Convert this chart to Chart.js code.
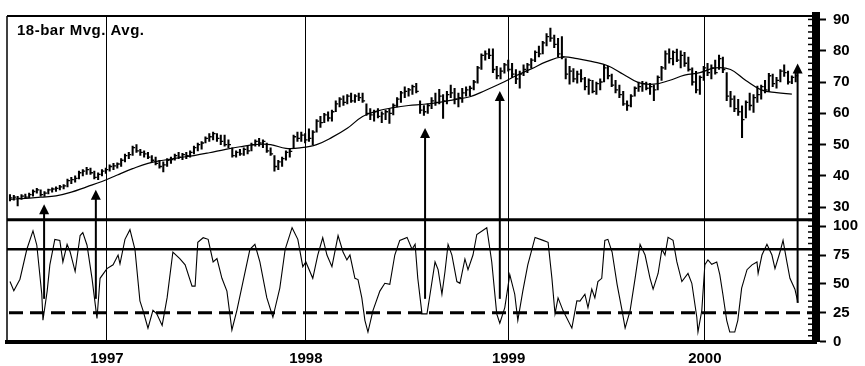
<!DOCTYPE html>
<html lang="en">
<head>
  <meta charset="UTF-8">
  <title>18-bar Mvg. Avg.</title>
  <script src="https://cdn.jsdelivr.net/npm/chart.js"></script>
  <style>
    body {
      margin: 0;
      background-color: #ffffff;
    }
    canvas {
      display: block;
    }
  </style>
</head>
<body>
  <canvas id="chart" width="865" height="366"></canvas>

  <script>
    // weekly bars, index 0 = first week on the chart (mid 1996)
    const priceHigh = [
      34.0,33.8,33.5,34.0,34.2,34.5,35.5,36.0,35.5,35.0,
      35.8,36.2,36.5,37.0,37.2,39.0,39.5,40.0,41.5,42.0,
      42.7,42.5,41.5,41.0,42.0,42.5,43.5,44.0,44.2,45.5,
      47.0,47.5,49.5,50.0,48.5,48.0,47.5,46.5,46.0,45.0,
      44.5,45.5,46.0,47.0,47.5,47.2,47.5,48.0,49.5,50.5,
      51.0,52.5,53.5,54.0,53.5,53.0,53.0,51.5,49.0,48.0,
      48.5,49.0,49.5,50.5,51.5,52.0,51.5,50.5,49.0,46.5,
      45.0,46.0,48.0,48.5,53.0,54.0,54.0,53.5,55.0,54.5,
      58.0,59.0,60.0,60.5,61.0,64.0,65.0,65.6,66.0,66.5,
      66.0,66.5,66.5,63.0,61.5,61.0,61.5,60.5,61.0,61.5,
      63.0,65.0,67.0,68.5,68.0,69.0,69.6,64.0,62.5,63.0,
      65.0,66.5,67.7,66.0,67.0,69.0,68.0,66.5,68.0,68.5,
      68.7,70.5,75.0,79.0,80.0,80.6,80.6,75.0,74.5,76.0,
      77.0,76.0,74.0,73.5,75.5,76.0,77.5,80.0,81.5,83.0,
      85.5,87.2,85.0,84.0,84.5,77.5,75.0,74.3,73.5,74.0,
      71.5,71.0,70.5,70.0,71.0,75.5,75.0,72.5,70.5,69.0,
      67.0,64.0,66.0,68.5,70.0,70.2,70.0,69.6,69.0,72.0,
      75.0,80.0,80.6,80.0,80.5,80.0,79.5,78.0,74.5,73.4,
      72.0,75.0,76.0,75.5,77.0,78.6,78.0,73.0,67.0,65.6,
      64.5,62.4,64.0,66.5,66.0,68.7,69.0,70.5,72.8,72.5,
      71.5,74.0,75.5,73.5,72.0,72.8
    ];
    const priceLow = [
      32.0,32.2,30.4,32.5,32.8,33.0,33.5,34.5,33.5,33.4,
      34.2,34.8,35.0,35.5,35.8,36.5,37.5,38.0,39.0,40.0,
      40.5,40.5,39.0,38.8,40.0,40.8,41.5,42.0,42.5,43.0,
      44.5,45.5,46.5,47.5,46.5,46.0,45.5,44.5,43.5,42.5,
      41.3,43.0,44.0,45.0,45.5,45.2,45.5,46.0,47.0,48.0,
      48.5,50.5,51.0,51.5,51.0,50.0,49.5,49.0,46.0,46.0,
      46.5,46.5,47.0,48.0,49.5,49.5,49.0,47.5,46.5,41.5,
      42.0,43.0,45.0,46.0,49.0,51.0,51.0,50.5,51.0,50.0,
      54.0,55.5,57.0,57.5,57.5,60.5,62.0,62.5,63.0,63.5,
      63.5,64.0,63.5,59.3,58.0,57.5,58.5,57.0,58.0,56.8,
      59.5,62.0,63.5,65.0,65.5,66.0,66.5,60.0,59.3,60.0,
      61.5,62.5,63.0,58.4,63.0,65.0,63.0,62.0,63.5,65.5,
      65.6,67.5,69.6,74.0,77.0,77.5,73.0,71.0,71.0,72.8,
      73.5,71.5,69.5,68.0,72.0,73.0,74.5,76.5,78.0,79.0,
      81.5,83.0,81.0,78.0,77.4,71.0,69.3,70.0,69.6,70.0,
      67.5,66.0,66.5,66.0,67.5,70.0,71.0,68.5,66.5,65.0,
      62.5,60.9,62.0,65.5,67.0,67.0,67.5,66.0,64.0,67.5,
      70.5,74.0,76.0,75.5,76.5,74.5,75.0,73.5,69.0,66.5,
      66.0,70.5,72.0,71.0,72.5,74.0,73.0,64.0,62.0,60.5,
      59.3,52.2,58.5,61.0,60.3,63.5,64.5,66.5,67.0,68.5,
      68.0,70.0,71.8,69.3,69.5,70.0
    ];
    const priceClose = [
      33.0,33.2,32.8,33.5,33.2,34.0,35.0,35.5,34.0,34.5,
      35.5,35.8,36.0,36.5,36.8,38.5,38.8,39.2,41.0,41.5,
      42.0,41.0,39.5,40.5,41.5,42.0,43.0,43.2,43.8,45.0,
      46.5,46.8,49.0,48.0,47.5,47.0,46.0,45.0,44.0,43.0,
      43.5,45.0,45.2,46.5,46.0,46.8,46.5,47.5,49.0,50.0,
      50.5,52.0,52.5,53.5,52.0,51.0,50.0,50.0,46.5,47.5,
      47.0,48.5,48.0,50.0,51.0,50.5,51.0,48.0,47.0,43.0,
      44.5,45.5,47.5,47.8,52.5,52.0,53.0,51.5,52.0,54.0,
      57.5,57.0,59.5,58.5,60.5,63.0,64.5,63.5,65.5,64.0,
      65.5,65.0,64.0,60.0,59.5,60.5,59.0,59.8,60.5,60.0,
      62.5,64.5,66.5,67.0,67.5,68.5,67.0,61.0,60.5,62.5,
      64.0,63.5,65.5,64.0,66.0,66.5,64.5,65.0,66.5,67.5,
      68.0,70.0,74.5,78.5,79.0,78.5,74.0,72.0,73.5,75.5,
      74.0,72.5,71.0,72.5,74.0,75.5,77.0,79.5,79.0,82.5,
      84.5,84.0,82.0,79.0,78.0,72.5,73.5,71.0,72.5,71.0,
      68.5,70.5,67.0,69.5,70.0,74.5,72.0,69.0,67.5,66.0,
      63.0,62.5,65.5,68.0,68.5,69.5,68.0,68.5,67.5,71.5,
      74.5,79.0,77.5,79.5,77.0,78.5,76.0,74.0,70.0,67.5,
      71.5,74.5,73.0,74.5,73.0,77.5,74.0,65.5,64.5,61.5,
      60.5,58.0,63.5,62.5,65.0,66.0,68.5,67.5,72.0,69.5,
      70.5,73.5,73.0,70.0,71.5,72.0
    ];

    // 18-bar moving average, read every 4th week
    const maWeek = [0,4,8,12,16,20,24,28,32,36,40,44,48,52,56,60,64,68,72,76,80,84,88,92,96,100,
      104,108,112,116,120,124,128,132,136,140,144,148,152,156,160,164,168,172,176,180,184,188,192,196,200,204];
    const maValue = [32.5,32.8,33.2,33.6,34.8,36.5,38.2,40.3,42.3,44.0,45.0,45.8,46.5,47.4,48.4,49.3,50.0,50.0,
      48.8,49.0,50.0,52.3,55.2,59.0,60.8,61.8,62.5,62.9,63.5,64.4,65.3,67.3,69.5,72.0,74.2,76.5,78.0,77.5,76.5,
      75.2,72.5,69.8,69.3,70.5,72.2,73.0,74.5,74.0,70.5,67.5,66.6,66.1];

    // oscillator turning points (week, value)
    const oscWeek = [
      0,1.0,2.6,4.4,6.0,7.0,8.3,8.6,9.7,10.4,
      11.7,13.0,13.8,14.9,15.7,17.0,18.3,19.0,20.1,21.4,
      22.7,23.5,25.3,26.9,28.2,28.7,30.0,31.3,32.6,33.9,
      34.7,36.0,37.3,38.3,39.7,41.0,42.5,44.3,45.7,47.5,
      48.3,49.0,50.4,51.7,53.0,54.0,55.3,56.6,57.9,59.2,
      60.8,62.6,63.9,65.2,67.0,68.6,70.4,71.8,73.6,75.1,
      76.4,77.2,79.0,80.3,81.6,82.7,84.0,85.6,86.9,87.9,
      88.7,90.0,90.8,91.8,92.6,93.4,94.7,96.5,97.8,99.1,
      100.4,101.7,103.6,104.9,105.7,106.4,107.5,108.8,109.6,110.9,
      111.7,112.7,113.5,114.3,115.3,116.6,117.4,118.7,119.5,120.8,
      121.8,124.4,125.7,127.0,127.8,129.1,130.4,131.7,132.5,133.8,
      135.1,137.0,139.1,140.4,141.4,142.2,143.0,144.3,146.6,147.9,
      148.7,150.0,150.8,151.8,152.6,153.4,154.4,155.2,156.0,157.1,
      158.4,159.7,160.5,161.8,163.1,164.4,165.7,167.0,167.8,169.1,
      170.1,170.9,171.7,173.0,174.0,175.3,176.9,177.9,179.2,179.5,
      180.5,181.3,182.1,183.1,184.4,185.2,186.0,187.0,187.8,189.1,
      189.9,190.9,192.3,193.6,194.9,195.2,196.2,197.5,198.8,199.6,
      200.9,201.7,202.7,203.5,204.8,205.6
    ];
    const oscValue = [
      52,44,54,80,96,83.5,41,18.4,43.7,66.5,
      88.6,87.7,69,84.3,77.6,60.7,91.9,94.5,83.5,54.8,
      20,54.8,63.2,66.5,75,67.4,88.6,97,80,35.3,
      27,11.6,27,24,14,38,77.6,71.9,66.5,48,
      48,86,90,88.6,69,71.9,54.8,43.7,10,27,
      52,80,84.3,69,38,21,46.3,80,98.7,88.6,
      64.9,69,54.8,75,90,75,64.9,91.9,77.6,70.8,
      75,54.8,53.7,37.8,18.4,8.2,26.8,43.7,50.5,49.6,
      75,87.7,90.3,80,84.3,54.8,24,24,41,69,
      62.3,41,60.7,84.3,75,52,50.5,71.6,62.3,75,
      92.8,98.7,69,24,15.8,29.4,58,41,18.4,43.7,
      66.5,90.3,87.7,86,54.8,24,37.8,26.8,11.6,35.3,
      35,41,29.4,45.4,37.8,52,54.8,87.7,88.6,77.6,
      49.6,26.8,11.6,26.8,54.8,84.3,75,54.8,45.4,59,
      80,75,90.3,87.7,69,52,59,50.5,21,8.2,
      26.8,66.5,70.8,67,69,58,41,18.4,8.2,8.2,
      18.4,46.3,62.3,66.5,69,59,75,84.3,75,63.2,
      77.6,87.7,69,54.8,45.4,33.6
    ];

    const yearWeek = [25.3, 77.2, 130.1, 181.3];
    const yearLabels = ["1997", "1998", "1999", "2000"];
    const priceTicks = [30, 40, 50, 60, 70, 80, 90];
    const oscTicks = [0, 25, 50, 75, 100];
    const oscLevels = [80, 25];   // solid, dashed

    // arrows: week, tip (price scale), foot (oscillator scale)
    const arrowWeek = [8.9, 22.4, 108.3, 127.8, 205.5];
    const arrowTip = [30.9, 35.6, 55.3, 67.1, 75.9];
    const arrowFoot = [37, 37, 37, 37, 33.6];

    const FONT = '"Liberation Sans", Arial, sans-serif';
    Chart.defaults.font.family = FONT;
    Chart.defaults.color = "#000";

    const decor = {
      id: "decor",
      beforeDatasetsDraw(chart) {
        const { ctx, chartArea: a } = chart;
        const yO = chart.scales.yO;
        ctx.save();
        ctx.strokeStyle = "#000";
        ctx.lineWidth = 2.5;
        let y = yO.getPixelForValue(oscLevels[0]);
        ctx.beginPath(); ctx.moveTo(a.left, y); ctx.lineTo(a.right, y); ctx.stroke();
        ctx.lineWidth = 3;
        ctx.setLineDash([14, 7]);
        y = yO.getPixelForValue(oscLevels[1]);
        ctx.beginPath(); ctx.moveTo(a.left + 2, y); ctx.lineTo(a.right, y); ctx.stroke();
        ctx.restore();
      },
      afterDraw(chart) {
        const { ctx, chartArea: a, scales } = chart;
        const { x: xs, yP, yO } = scales;
        ctx.save();
        ctx.strokeStyle = "#000";
        ctx.fillStyle = "#000";

        // frame
        ctx.lineWidth = 2;
        ctx.beginPath(); ctx.moveTo(a.left, a.top); ctx.lineTo(a.right, a.top); ctx.stroke();
        ctx.lineWidth = 1.5;
        ctx.beginPath(); ctx.moveTo(a.left, a.top); ctx.lineTo(a.left, a.bottom); ctx.stroke();
        ctx.lineWidth = 3;
        ctx.beginPath(); ctx.moveTo(a.left, yO.top); ctx.lineTo(a.right, yO.top); ctx.stroke();

        // comb on the inside of the right axis band
        ctx.lineWidth = 1.5;
        [yP, yO].forEach(s => {
          s.ticks.forEach(t => {
            const ty = s.getPixelForValue(t.value);
            ctx.beginPath(); ctx.moveTo(a.right - 8, ty); ctx.lineTo(a.right - 4, ty); ctx.stroke();
          });
        });

        // arrows
        arrowWeek.forEach((w, k) => {
          const x = xs.getPixelForValue(w);
          const yTip = yP.getPixelForValue(arrowTip[k]);
          const yFoot = yO.getPixelForValue(arrowFoot[k]);
          ctx.lineWidth = 2;
          ctx.beginPath(); ctx.moveTo(x, yFoot); ctx.lineTo(x, yTip + 6); ctx.stroke();
          ctx.beginPath();
          ctx.moveTo(x, yTip);
          ctx.lineTo(x - 5, yTip + 10);
          ctx.lineTo(x + 5, yTip + 10);
          ctx.closePath();
          ctx.fill();
        });

        // title
        ctx.font = "bold 15px " + FONT;
        ctx.letterSpacing = "0.5px";
        ctx.textBaseline = "alphabetic";
        ctx.fillText("18-bar Mvg. Avg.", a.left + 10, a.top + 18.5);
        ctx.restore();
      }
    };

    const bars = priceHigh.map((h, i) => ({ x: i, y: [priceLow[i], h] }));
    const closes = priceClose.map((c, i) => ({ x: i, y: c }));
    const ma = maWeek.map((w, k) => ({ x: w, y: maValue[k] }));
    const osc = oscWeek.map((w, k) => ({ x: w, y: oscValue[k] }));

    function minorTicks(lo, hi, step) {
      const t = [];
      for (let v = lo; v <= hi; v += step) t.push({ value: v });
      return t;
    }

    new Chart(document.getElementById("chart").getContext("2d"), {
      data: {
        datasets: [
          { type: "bar", data: bars, backgroundColor: "#000", borderWidth: 0, barThickness: 1.4, yAxisID: "yP" },
          { type: "line", data: closes, showLine: false, pointStyle: "dash", pointRadius: 2.5,
            pointBorderWidth: 1.3, pointBorderColor: "#000", yAxisID: "yP" },
          { type: "line", data: ma, borderColor: "#000", borderWidth: 1.2, pointRadius: 0, tension: 0.4, yAxisID: "yP" },
          { type: "line", data: osc, borderColor: "#000", borderWidth: 1.1, pointRadius: 0, tension: 0, yAxisID: "yO" }
        ]
      },
      options: {
        responsive: false,
        animation: false,
        layout: { padding: { left: 7, top: 8, right: 0, bottom: 0 } },
        plugins: { legend: { display: false }, tooltip: { enabled: false } },
        scales: {
          x: {
            type: "linear",
            position: "bottom",
            offset: false,
            min: -0.78,
            max: 210.3,
            afterBuildTicks: s => { s.ticks = yearWeek.map(v => ({ value: v })); },
            afterFit: s => { s.height = 24.5; },
            ticks: {
              autoSkip: false, maxRotation: 0, padding: 8,
              font: { size: 15, weight: "bold" },
              callback: (v, i) => yearLabels[i]
            },
            grid: { color: "#000", lineWidth: 1, drawTicks: false, offset: false },
            border: { color: "#000", width: 4 }
          },
          yP: {
            type: "linear",
            position: "right",
            stack: "panels",
            stackWeight: 209,
            min: 25.94,
            max: 91.1,
            afterBuildTicks: s => { s.ticks = minorTicks(26, 90, 2); },
            afterFit: s => { s.width = 49; },
            ticks: {
              autoSkip: false, padding: 7,
              font: { size: 15, weight: "bold" },
              callback: v => priceTicks.includes(v) ? String(v) : ""
            },
            grid: {
              drawOnChartArea: false, tickLength: 10, tickWidth: 2,
              tickColor: c => (c.tick && priceTicks.includes(c.tick.value)) ? "#000" : "rgba(0,0,0,0)"
            },
            border: { color: "#000", width: 8 }
          },
          yO: {
            type: "linear",
            position: "right",
            stack: "panels",
            stackWeight: 124.7,
            min: 0,
            max: 105.5,
            afterBuildTicks: s => { s.ticks = minorTicks(0, 105, 5); },
            afterFit: s => { s.width = 49; },
            ticks: {
              autoSkip: false, padding: 7,
              font: { size: 15, weight: "bold" },
              callback: v => oscTicks.includes(v) ? String(v) : ""
            },
            grid: {
              drawOnChartArea: false, tickLength: 10, tickWidth: 2,
              tickColor: c => (c.tick && oscTicks.includes(c.tick.value)) ? "#000" : "rgba(0,0,0,0)"
            },
            border: { color: "#000", width: 8 }
          }
        }
      },
      plugins: [decor]
    });
  </script>
</body>
</html>
